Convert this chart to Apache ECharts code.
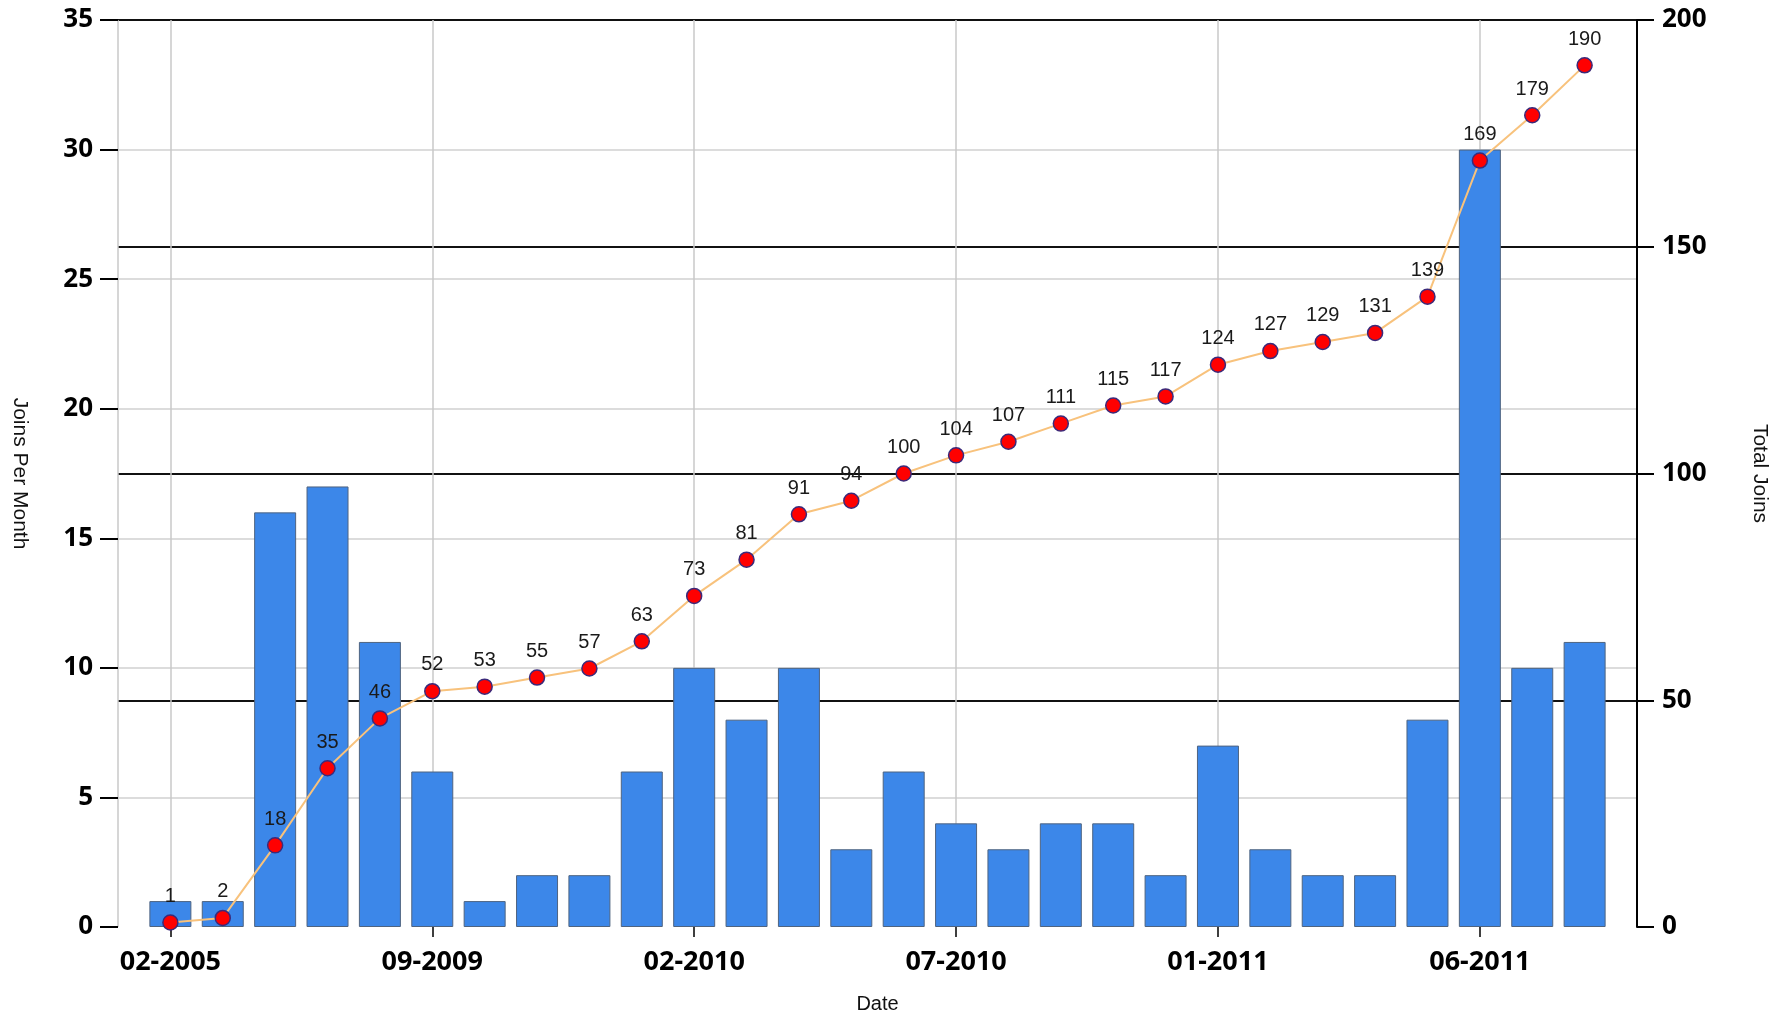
<!DOCTYPE html>
<html>
<head>
<meta charset="utf-8">
<script src="https://cdn.jsdelivr.net/npm/echarts@6/dist/echarts.min.js"></script>
<style>
html,body{margin:0;padding:0;background:#fff;}
#chart{width:1784px;height:1019px;}
</style>
</head>
<body>
<div id="chart"></div>
<script>
// ---- data ----
const categories = ['02-2005','05-2009','06-2009','07-2009','08-2009','09-2009','10-2009','11-2009','12-2009','01-2010',
  '02-2010','03-2010','04-2010','05-2010','06-2010','07-2010','08-2010','09-2010','10-2010','11-2010',
  '01-2011','02-2011','03-2011','04-2011','05-2011','06-2011','07-2011','08-2011'];
const joinsPerMonth = [1,1,16,17,11,6,1,2,2,6,10,8,10,3,6,4,3,4,4,2,7,3,2,2,8,30,10,11];
const totalJoins = [1,2,18,35,46,52,53,55,57,63,73,81,91,94,100,104,107,111,115,117,124,127,129,131,139,169,179,190];
const leftTicks = [0,5,10,15,20,25,30,35];
const rightTicks = [0,50,100,150,200];

// padded axis (one empty slot each side)
const axisCats = [''].concat(categories, ['']);
const padBars = [null].concat(joinsPerMonth, [null]);
const padLine = [null].concat(totalJoins, [null]);
const N = axisCats.length;
const isLabeled = i => i > 0 && i < N - 1 && (i - 1) % 5 === 0;

const axisFont = 'Noto Sans';
const textFont = 'Liberation Sans';

const chart = echarts.init(document.getElementById('chart'), null, {renderer: 'canvas'});
chart.setOption({
  animation: false,
  backgroundColor: '#fff',
  grid: {left: 118, right: 147, top: 20, bottom: 86, containLabel: false},
  xAxis: {
    type: 'category',
    data: axisCats,
    boundaryGap: false,
    name: 'Date',
    nameLocation: 'middle',
    nameGap: 67,
    nameTextStyle: {fontFamily: textFont, fontSize: 20, color: '#111'},
    axisLine: {show: false},
    axisTick: {show: true, interval: (i) => isLabeled(i), length: 10, lineStyle: {color: '#000', width: 1.5}},
    axisLabel: {interval: (i) => isLabeled(i), fontFamily: axisFont, fontWeight: 'bold', fontSize: 27, color: '#000', margin: 22},
    splitLine: {show: true, interval: (i) => i === 0 || isLabeled(i), lineStyle: {color: '#c8c8c8', width: 1.5}}
  },
  yAxis: [
    {
      type: 'value', position: 'left',
      min: leftTicks[0], max: leftTicks[leftTicks.length - 1], interval: leftTicks[1] - leftTicks[0],
      name: 'Joins Per Month', nameLocation: 'middle', nameRotate: -90, nameGap: 88,
      nameTextStyle: {fontFamily: textFont, fontSize: 21, color: '#111'},
      axisLine: {show: false},
      axisTick: {show: true, length: 18, lineStyle: {color: '#000', width: 2}},
      axisLabel: {fontFamily: axisFont, fontWeight: 'bold', fontSize: 26, color: '#000', margin: 25},
      splitLine: {show: true, showMinLine: false, showMaxLine: false, lineStyle: {color: '#d0d0d0', width: 1.5}}
    },
    {
      type: 'value', position: 'right',
      min: rightTicks[0], max: rightTicks[rightTicks.length - 1], interval: rightTicks[1] - rightTicks[0],
      name: 'Total Joins', nameLocation: 'middle', nameRotate: -90, nameGap: 112,
      nameTextStyle: {fontFamily: textFont, fontSize: 21, color: '#111'},
      axisLine: {show: true, lineStyle: {color: '#000', width: 2}},
      axisTick: {show: true, length: 17, lineStyle: {color: '#000', width: 2}},
      axisLabel: {fontFamily: axisFont, fontWeight: 'bold', fontSize: 26, color: '#000', margin: 25},
      splitLine: {show: true, showMinLine: false, lineStyle: {color: '#111', width: 2}}
    }
  ],
  series: [
    {
      type: 'bar', yAxisIndex: 0, data: padBars, barWidth: 42,
      itemStyle: {color: '#3c87e9', borderColor: '#4f6480', borderWidth: 1}
    },
    {
      type: 'line', yAxisIndex: 1, data: padLine,
      lineStyle: {color: '#f8c27c', width: 2},
      symbol: 'circle', symbolSize: 15,
      itemStyle: {color: '#ff0000', borderColor: '#3b2a7a', borderWidth: 1.5},
      label: {show: true, position: 'top', distance: 8, fontFamily: textFont, fontSize: 20, color: '#1a1a1a'},
      z: 5
    }
  ]
});
</script>
</body>
</html>
